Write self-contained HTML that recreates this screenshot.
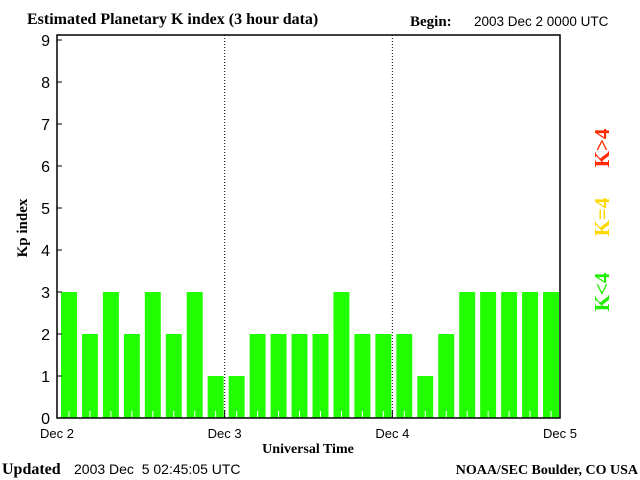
<!DOCTYPE html>
<html><head><meta charset="utf-8"><style>
body{margin:0;background:#fff}
svg{display:block}
.s{font-family:"Liberation Serif",serif;font-weight:bold}
.m{font-family:"Liberation Sans",sans-serif}
</style></head><body>
<svg id="c" width="640" height="480">
<text x="27" y="24" class="s" font-size="16">Estimated Planetary K index (3 hour data)</text>
<text x="410" y="26" class="s" font-size="15">Begin:</text>
<text x="474" y="26" class="m" font-size="13.5">2003 Dec 2 0000 UTC</text>
<g id="bars"></g>
<g id="axes"></g>
<text transform="translate(27,228) rotate(-90)" text-anchor="middle" class="s" font-size="15">Kp index</text>
<text x="308" y="453" text-anchor="middle" class="s" font-size="14">Universal Time</text>
<text x="2" y="474" class="s" font-size="16">Updated</text>
<text x="74" y="474" class="m" font-size="14" xml:space="preserve" style="white-space:pre">2003 Dec  5 02:45:05 UTC</text>
<text x="638" y="474" text-anchor="end" class="s" font-size="14">NOAA/SEC Boulder, CO USA</text>
<text transform="translate(609,148) rotate(-90)" text-anchor="middle" class="s" font-size="21" fill="#ff2a00">K&gt;4</text>
<text transform="translate(609,217) rotate(-90)" text-anchor="middle" class="s" font-size="21" fill="#ffd700">K=4</text>
<text transform="translate(609,292) rotate(-90)" text-anchor="middle" class="s" font-size="21" fill="#22ee00">K&lt;4</text>
</svg>
<script>
const kpValues=[3,2,3,2,3,2,3,1, 1,2,2,2,2,3,2,2, 2,1,2,3,3,3,3,3];
const yTicks=[0,1,2,3,4,5,6,7,8,9];
const dayLabels=["Dec 2","Dec 3","Dec 4","Dec 5"];
const NS="http://www.w3.org/2000/svg";
const L=57,R=560,T=35,B=418;
const y=v=>B-v*(418-40)/9;
const x=i=>L+i*(R-L)/24;
function mk(t,a,p){const e=document.createElementNS(NS,t);for(const k in a)e.setAttribute(k,a[k]);p.appendChild(e);return e;}
const bars=document.getElementById('bars'),ax=document.getElementById('axes');
kpValues.forEach((v,i)=>{
  const col=v>4?'#ff2a00':(v==4?'#ffd700':'#22ff00');
  const r=mk('rect',{x:x(i)+4,y:y(v),width:(R-L)/24-5,height:B-y(v),fill:col},bars);
  
  
  const cx=x(i)+4+((R-L)/24-5)/2;
  mk('line',{x1:cx,x2:cx,y1:B-7,y2:B,stroke:'#fff'},bars);
});
mk('rect',{x:L,y:T,width:R-L,height:B-T,fill:'none',stroke:'#000','stroke-width':1.5},ax);
[1,2].forEach(d=>{const xx=L+d*(R-L)/3;mk('line',{x1:xx,x2:xx,y1:T,y2:B,stroke:'#000','stroke-dasharray':'1,2'},ax);});
yTicks.forEach(t=>{
  mk('line',{x1:L,x2:L+5,y1:y(t),y2:y(t),stroke:'#000'},ax);
  const tx=mk('text',{x:L-7,y:y(t)+6,'text-anchor':'end','font-size':'16','font-family':'Liberation Sans, sans-serif'},ax);
  tx.textContent=t;
  
  
});
dayLabels.forEach((d,i)=>{
  const xx=L+i*(R-L)/3;
  mk('line',{x1:xx,x2:xx,y1:B-8,y2:B,stroke:'#000'},ax);
  const tx=mk('text',{x:xx,y:438,'text-anchor':'middle','font-size':'13','font-family':'Liberation Sans, sans-serif'},ax);
  tx.textContent=d;
  
  
});
</script>
</body></html>
